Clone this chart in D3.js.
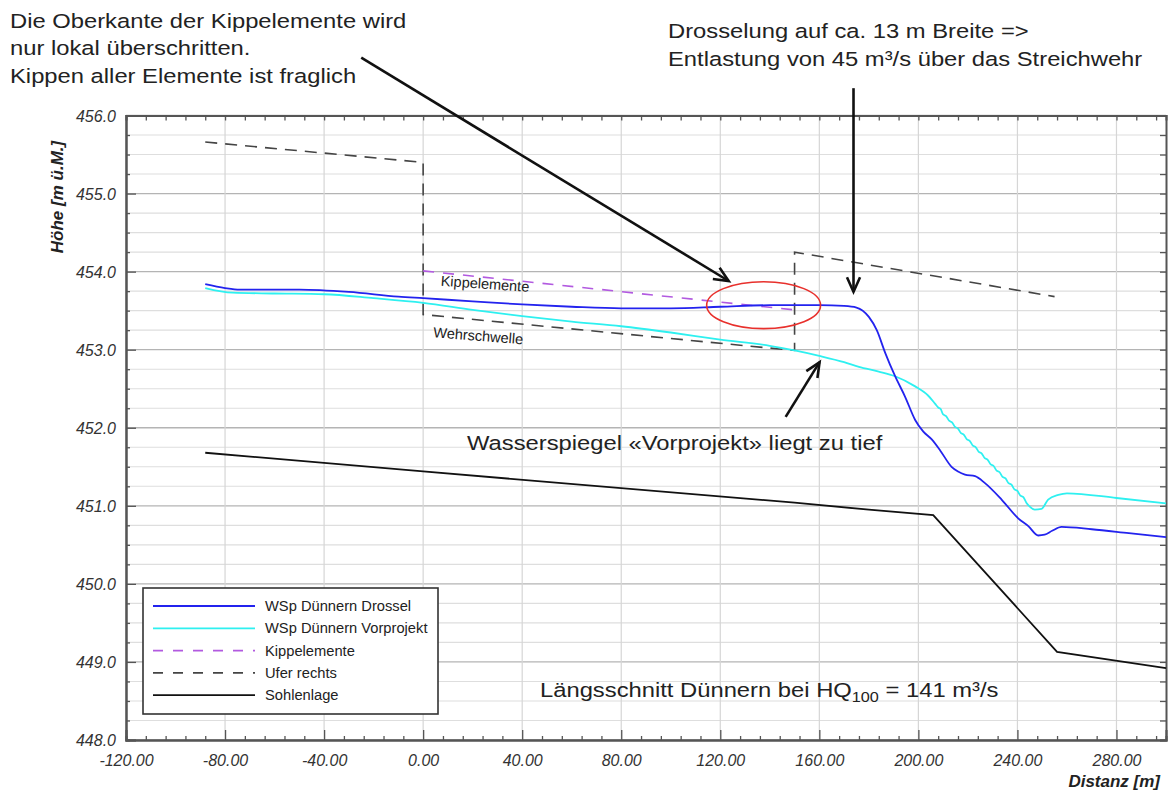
<!DOCTYPE html>
<html>
<head>
<meta charset="utf-8">
<script src="https://cdn.jsdelivr.net/npm/d3@7"></script>
<style>
  html, body { margin: 0; padding: 0; background: #fff; }
  svg { display: block; font-family: "Liberation Sans", Arial, sans-serif; }
</style>
</head>
<body>
<svg id="chart" width="1168" height="791"></svg>
<script>
// Längsschnitt Dünnern — Distanz [m] vs. Höhe [m ü.M.]

// Wasserspiegel Variante Drossel [distance, elevation]
const drossel = [
  [-88, 453.84], [-80, 453.79], [-74, 453.77], [-50, 453.77], [-30, 453.74],
  [-10, 453.68], [0, 453.66], [20, 453.62], [40, 453.58], [60, 453.55],
  [80, 453.53], [100, 453.53], [120, 453.55], [140, 453.57], [160, 453.57],
  [170, 453.56], [175, 453.54], [180, 453.42], [183.2, 453.25], [186.6, 452.96],
  [190.6, 452.66], [194.6, 452.40], [198.7, 452.10], [202, 451.95], [205.4, 451.85],
  [209, 451.70], [213.4, 451.50], [216, 451.44], [218.8, 451.40], [222.9, 451.38],
  [226.9, 451.29], [233.6, 451.08], [240.3, 450.84], [244.4, 450.74], [248.4, 450.62],
  [251, 450.63], [254, 450.68], [257.8, 450.73], [270, 450.70], [285, 450.65], [300, 450.60]
];

// Wasserspiegel Vorprojekt [distance, elevation]
const vorprojekt = [
  [-88, 453.79], [-77, 453.73], [-60, 453.72], [-40, 453.71], [-20, 453.66],
  [0, 453.60], [20, 453.51], [40, 453.43], [60, 453.36], [80, 453.30],
  [100, 453.22], [120, 453.13], [140, 453.05], [150, 452.99], [160, 452.92],
  [170, 452.84], [176, 452.78], [184, 452.72], [190.6, 452.66], [198.7, 452.53],
  [204, 452.41], [206.7, 452.31], [208, 452.26], [209, 452.24],
  [210, 452.17], [211.2, 452.15], [212.4, 452.09], [213.6, 452.07], [214.8, 452.01],
  [216, 451.99], [217.2, 451.93], [218.4, 451.91], [219.6, 451.85], [220.8, 451.83],
  [222, 451.77], [223.2, 451.75], [224.4, 451.69], [225.6, 451.67], [226.8, 451.61],
  [228, 451.59], [229.2, 451.53], [230.4, 451.51], [231.6, 451.45], [232.8, 451.43],
  [234, 451.37], [235.2, 451.35], [236.4, 451.29], [237.6, 451.27], [238.8, 451.21],
  [240, 451.19], [241.2, 451.13], [242.4, 451.11], [243.6, 451.04], [245, 450.99],
  [247, 450.95], [249.7, 450.96], [252.4, 451.08], [256.5, 451.14], [260, 451.16],
  [280, 451.10], [300, 451.03]
];

// Oberkante Kippelemente
const kippelemente = [[0, 454.01], [150, 453.51]];

// Ufer rechts incl. Wehrschwelle
const uferRechts = [
  [-88, 455.66], [0, 455.40], [0, 453.45], [150, 452.99], [150, 454.25], [255, 453.68]
];

// Sohlenlage
const sohle = [
  [-88, 451.68], [0, 451.44], [150, 451.04], [180, 450.95], [206, 450.88],
  [256, 449.13], [300, 448.92]
];

const xDomain = [-120, 300];
const yDomain = [448, 456];
const xTickValues = [-120, -80, -40, 0, 40, 80, 120, 160, 200, 240, 280];
const yTickValues = [448, 449, 450, 451, 452, 453, 454, 455, 456];

const legendLabels = [
  "WSp Dünnern Drossel", "WSp Dünnern Vorprojekt", "Kippelemente", "Ufer rechts", "Sohlenlage"
];

// Annotation anchors in data units
const kippeCircle = { x: 137.5, y: 453.57, rx: 23, ry: 0.30 };
const arrows = [
  { from: [-25, 456.74], to: [123.4, 453.88] },
  { from: [173.8, 456.35], to: [173.8, 453.74] },
  { from: [146.4, 452.14], to: [160.1, 452.84] }
];

const svg = d3.select("#chart");
const plotL = 126, plotR = 1166, plotT = 115.5, plotB = 740;

const x = d3.scaleLinear().domain(xDomain).range([plotL, plotR]);
const y = d3.scaleLinear().domain(yDomain).range([plotB, plotT]);

// Grid
const grid = svg.append("g");
d3.range(448, 456.001, 0.25).forEach(v => {
  const major = Math.abs(v - Math.round(v)) < 1e-6;
  grid.append("line")
    .attr("x1", plotL).attr("x2", plotR)
    .attr("y1", y(v)).attr("y2", y(v))
    .attr("stroke", major ? "#b4b4b4" : "#dedede")
    .attr("stroke-width", major ? 1.3 : 1.1);
});
xTickValues.forEach(v => {
  grid.append("line")
    .attr("x1", x(v)).attr("x2", x(v))
    .attr("y1", plotT).attr("y2", plotB)
    .attr("stroke", "#d6d6d6").attr("stroke-width", 1.2);
});

// Axes (ticks point inward on all four sides)
const axisColor = "#555";
const minorX = d3.range(-120, 300.001, 8).filter(v => !xTickValues.includes(v));
const minorY = d3.range(448, 456.001, 0.25).filter(v => Math.abs(v - Math.round(v)) > 1e-6);
const fmtX = v => v.toFixed(2);
const fmtY = v => v.toFixed(1);

const gBottom = svg.append("g").attr("transform", `translate(0,${plotB})`);
gBottom.call(d3.axisBottom(x).tickValues(xTickValues).tickSize(-10).tickFormat(fmtX));
gBottom.append("g").call(d3.axisBottom(x).tickValues(minorX).tickSize(-4).tickFormat(""));

const gTop = svg.append("g").attr("transform", `translate(0,${plotT})`);
gTop.call(d3.axisTop(x).tickValues(minorX.concat(xTickValues)).tickSize(-5).tickFormat(""));

const gLeft = svg.append("g").attr("transform", `translate(${plotL},0)`);
gLeft.call(d3.axisLeft(y).tickValues(yTickValues).tickSize(-10).tickFormat(fmtY));
gLeft.append("g").call(d3.axisLeft(y).tickValues(minorY).tickSize(-4).tickFormat(""));

const gRight = svg.append("g").attr("transform", `translate(${plotR},0)`);
gRight.call(d3.axisRight(y).tickValues(minorY.concat(yTickValues)).tickSize(-6).tickFormat(""));

svg.selectAll(".domain").attr("stroke", axisColor).attr("stroke-width", 2);
svg.selectAll(".tick line").attr("stroke", axisColor).attr("stroke-width", 1.3);
gBottom.selectAll(".tick text")
  .attr("font-size", 16).attr("font-style", "italic").attr("fill", "#333")
  .attr("y", 12).attr("dy", "0.9em");
gLeft.selectAll(".tick text")
  .attr("font-size", 16).attr("font-style", "italic").attr("fill", "#333")
  .attr("x", -10).attr("dy", "0.35em");
svg.selectAll(".tick text").attr("font-family", "'Liberation Sans', Arial, sans-serif");

// Axis titles
svg.append("text")
  .attr("transform", "translate(63,197) rotate(-90)")
  .attr("text-anchor", "middle")
  .attr("font-size", 17).attr("font-weight", "bold").attr("font-style", "italic").attr("fill", "#222")
  .text("Höhe [m ü.M.]");
svg.append("text")
  .attr("x", 1160).attr("y", 787)
  .attr("text-anchor", "end")
  .attr("font-size", 17).attr("font-weight", "bold").attr("font-style", "italic").attr("fill", "#222")
  .text("Distanz [m]");

// Series
const line = d3.line().x(d => x(d[0])).y(d => y(d[1]));
const smooth = d3.line().x(d => x(d[0])).y(d => y(d[1])).curve(d3.curveMonotoneX);

const styles = [
  { color: "#2323ee", dash: null, width: 1.8 },
  { color: "#2ef0f0", dash: null, width: 1.8 },
  { color: "#b25ae0", dash: "11,9", width: 1.6 },
  { color: "#444", dash: "12,8", width: 1.6 },
  { color: "#111", dash: null, width: 1.8 }
];

svg.append("path").datum(sohle).attr("d", line)
  .attr("fill", "none").attr("stroke", styles[4].color).attr("stroke-width", styles[4].width);
svg.append("path").datum(uferRechts).attr("d", line)
  .attr("fill", "none").attr("stroke", styles[3].color).attr("stroke-width", styles[3].width)
  .attr("stroke-dasharray", styles[3].dash);
svg.append("path").datum(kippelemente).attr("d", line)
  .attr("fill", "none").attr("stroke", styles[2].color).attr("stroke-width", styles[2].width)
  .attr("stroke-dasharray", styles[2].dash);
svg.append("path").datum(vorprojekt).attr("d", smooth)
  .attr("fill", "none").attr("stroke", styles[1].color).attr("stroke-width", styles[1].width);
svg.append("path").datum(drossel).attr("d", smooth)
  .attr("fill", "none").attr("stroke", styles[0].color).attr("stroke-width", styles[0].width);

// Small in-plot labels
const kLabelPos = [7, 453.82], wLabelPos = [4, 453.16];
svg.append("text")
  .attr("transform", `translate(${x(kLabelPos[0])},${y(kLabelPos[1])}) rotate(4)`)
  .attr("font-size", 14.5).attr("fill", "#222").text("Kippelemente");
svg.append("text")
  .attr("transform", `translate(${x(wLabelPos[0])},${y(wLabelPos[1])}) rotate(4.5)`)
  .attr("font-size", 14.5).attr("fill", "#222").text("Wehrschwelle");

// Red ellipse around the local exceedance
svg.append("ellipse")
  .attr("cx", x(kippeCircle.x)).attr("cy", y(kippeCircle.y))
  .attr("rx", x(kippeCircle.x + kippeCircle.rx) - x(kippeCircle.x))
  .attr("ry", y(kippeCircle.y - kippeCircle.ry) - y(kippeCircle.y))
  .attr("fill", "none").attr("stroke", "#e8302c").attr("stroke-width", 1.6);

// Arrows with open heads
arrows.forEach(a => {
  const x1 = x(a.from[0]), y1 = y(a.from[1]), x2 = x(a.to[0]), y2 = y(a.to[1]);
  const ang = Math.atan2(y2 - y1, x2 - x1);
  const len = 16, spread = 0.42;
  svg.append("line").attr("x1", x1).attr("y1", y1).attr("x2", x2).attr("y2", y2)
    .attr("stroke", "#111").attr("stroke-width", 2.6);
  const p1 = [x2 - len * Math.cos(ang - spread), y2 - len * Math.sin(ang - spread)];
  const p2 = [x2 - len * Math.cos(ang + spread), y2 - len * Math.sin(ang + spread)];
  svg.append("path")
    .attr("d", `M${p1[0]},${p1[1]}L${x2},${y2}L${p2[0]},${p2[1]}`)
    .attr("fill", "none").attr("stroke", "#111").attr("stroke-width", 2.6)
    .attr("stroke-linejoin", "miter");
});

// Annotation texts (slightly wide face)
const noteFont = 20.5, noteStretch = 1.16;
function note(px, py) {
  return svg.append("text")
    .attr("transform", `translate(${px},${py}) scale(${noteStretch},1)`)
    .attr("font-size", noteFont).attr("fill", "#222");
}
const note1 = ["Die Oberkante der Kippelemente wird", "nur lokal überschritten.", "Kippen aller Elemente ist fraglich"];
note1.forEach((t, i) => note(10, 27.5 + i * 27.5).text(t));
const note2 = ["Drosselung auf ca. 13 m Breite =>", "Entlastung von 45 m³/s über das Streichwehr"];
note2.forEach((t, i) => note(668, 38 + i * 28).text(t));
note(467, 450).text("Wasserspiegel «Vorprojekt» liegt zu tief");

const title = note(540, 697);
title.append("tspan").text("Längsschnitt Dünnern bei HQ");
title.append("tspan").attr("font-size", 14).attr("dy", 5).text("100");
title.append("tspan").attr("dy", -5).text(" = 141 m³/s");

// Legend
const lg = svg.append("g");
lg.append("rect").attr("x", 143).attr("y", 588).attr("width", 295).attr("height", 126)
  .attr("fill", "#fff").attr("stroke", "#333").attr("stroke-width", 1.6);
legendLabels.forEach((lab, i) => {
  const ly = 606 + i * 22.3;
  const s = styles[i];
  lg.append("line").attr("x1", 153).attr("x2", 255).attr("y1", ly).attr("y2", ly)
    .attr("stroke", s.color).attr("stroke-width", s.width)
    .attr("stroke-dasharray", s.dash ? "10,10" : null);
  lg.append("text").attr("x", 265).attr("y", ly).attr("dy", "0.35em")
    .attr("font-size", 14.7).attr("fill", "#222").text(lab);
});
</script>
</body>
</html>
